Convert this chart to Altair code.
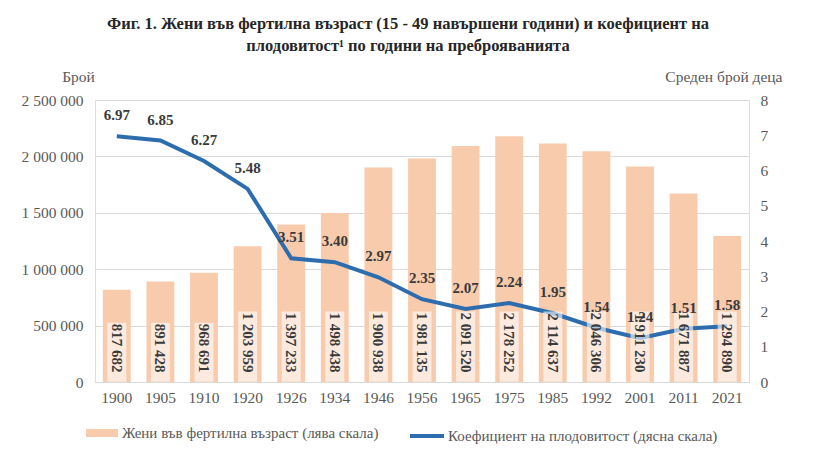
import altair as alt
import pandas as pd

years = ["1900", "1905", "1910", "1920", "1926", "1934", "1946", "1956",
         "1965", "1975", "1985", "1992", "2001", "2011", "2021"]
women = [817682, 891428, 968691, 1203959, 1397233, 1498438, 1900938, 1981135,
         2091520, 2178252, 2114637, 2046306, 1911230, 1671887, 1294890]
tfr = [6.97, 6.85, 6.27, 5.48, 3.51, 3.40, 2.97, 2.35,
       2.07, 2.24, 1.95, 1.54, 1.24, 1.51, 1.58]

bar_name = "Жени във фертилна възраст (лява скала)"
line_name = "Коефициент на плодовитост (дясна скала)"

df = pd.DataFrame({
    "year": years,
    "women": women,
    "tfr": tfr,
    "wlabel": [f"{v:,}".replace(",", " ") for v in women],
    "tlabel": [f"{v:.2f}" for v in tfr],
    "bar_s": bar_name,
    "line_s": line_name,
})

FONT = "Liberation Serif"
BAR = "#F8CBAD"
LINE = "#2E6DAD"
GRAY = "#595959"

base = alt.Chart(df)
xenc = alt.X("year:N", sort=years, title=None,
             scale=alt.Scale(paddingInner=0.36, paddingOuter=0.18),
             axis=alt.Axis(labelAngle=0, ticks=False, domain=False,
                           labelPadding=8, labelFontSize=15.5, labelColor=GRAY,
                           labelFont=FONT))
lscale = alt.Scale(domain=[0, 2500000])
rscale = alt.Scale(domain=[0, 8])

bars = base.mark_bar(color=BAR).encode(
    x=xenc,
    y=alt.Y("women:Q", scale=lscale,
            axis=alt.Axis(orient="left", values=[0, 500000, 1000000, 1500000, 2000000, 2500000],
                          format=",d", grid=True, gridColor="#D9D9D9", domain=False,
                          ticks=False, labelPadding=12, labelFontSize=15.5,
                          labelColor=GRAY, labelFont=FONT,
                          title="Брой", titleAngle=0, titleX=-17, titleY=-24,
                          titleAlign="center", titleBaseline="middle",
                          titleFont=FONT, titleFontSize=15.5, titleFontWeight="normal",
                          titleColor=GRAY)),
    fill=alt.Fill("bar_s:N", scale=alt.Scale(domain=[bar_name], range=[BAR]),
                  legend=alt.Legend(title=None, orient="none", legendX=-9, legendY=317,
                                    symbolType="M-1,-0.25H1V0.25H-1Z", symbolSize=1024,
                                    symbolStrokeWidth=0, labelLimit=400,
                                    labelFont=FONT, labelFontSize=15, labelColor=GRAY,
                                    labelOffset=4)),
)

line = base.mark_line(strokeWidth=4).encode(
    x=alt.X("year:N", sort=years),
    y=alt.Y("tfr:Q", scale=rscale,
            axis=alt.Axis(orient="right", values=list(range(0, 9)), grid=False,
                          domain=False, ticks=False, labelPadding=11,
                          labelFontSize=15.5, labelColor=GRAY, labelFont=FONT,
                          title="Среден брой деца", titleAngle=0, titleX=33, titleY=-24,
                          titleAlign="right", titleBaseline="middle",
                          titleFont=FONT, titleFontSize=15.5, titleFontWeight="normal",
                          titleColor=GRAY)),
    stroke=alt.Stroke("line_s:N", scale=alt.Scale(domain=[line_name], range=[LINE]),
                      legend=alt.Legend(title=None, orient="none", legendX=313, legendY=317,
                                        symbolType="stroke", symbolSize=1156,
                                        symbolStrokeWidth=4, labelLimit=400,
                                        labelFont=FONT, labelFontSize=15, labelColor=GRAY,
                                        labelOffset=2)),
)

boxes = base.mark_bar(color="white", opacity=0.6, size=19).transform_calculate(
    top="length(datum.wlabel) > 7 ? 625000 : 525000"
).encode(
    x=alt.X("year:N", sort=years),
    y=alt.Y("top:Q", scale=lscale, axis=None),
    y2=alt.datum(2000),
)

btext = base.mark_text(angle=90, align="right", baseline="middle", font=FONT,
                       fontSize=15, fontWeight="bold", color="#3A3A3A").encode(
    x=alt.X("year:N", sort=years),
    y=alt.Y("ypos:Q", scale=lscale, axis=None),
    text="wlabel:N",
).transform_calculate(ypos="85000")

ltext = base.mark_text(dy=-21, align="center", baseline="middle", font=FONT,
                       fontSize=15, fontWeight="bold", color="#3A3A3A").encode(
    x=alt.X("year:N", sort=years),
    y=alt.Y("tfr:Q", scale=rscale, axis=None),
    text="tlabel:N",
)

chart = alt.layer(bars, line, boxes, btext, ltext).resolve_scale(
    y="independent", fill="independent", stroke="independent"
).properties(
    width=654, height=282,
    autosize=alt.AutoSizeParams(type="none"),
    padding={"left": 87, "top": 92, "right": 58, "bottom": 70},
    title=alt.TitleParams(
        text=["Фиг. 1. Жени във фертилна възраст (15 - 49 навършени години) и коефициент на",
              "плодовитост¹ по години на преброяванията"],
        anchor="middle", font=FONT, fontSize=16.5, fontWeight="bold", color="#262626",
        lineHeight=22, dx=-14, offset=15,
    ),
).configure_view(stroke=None).configure(
    locale={"number": {"decimal": ".", "thousands": " ", "grouping": [3],
                       "currency": ["", ""]}}
)

chart.save("out.html", embed_options={"renderer": "svg", "actions": False})
